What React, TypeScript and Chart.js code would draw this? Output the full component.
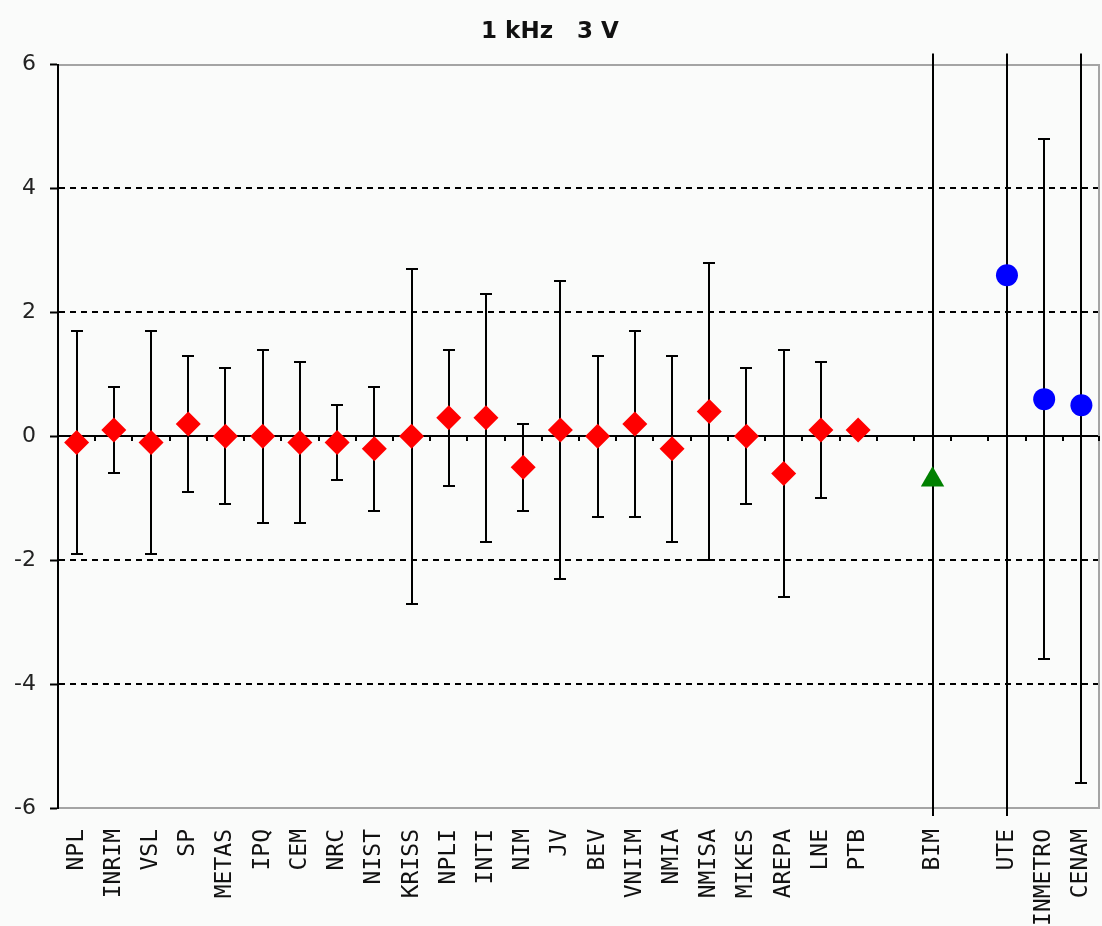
import React, { useEffect, useRef } from 'react';
import { Chart, registerables } from 'chart.js';

Chart.register(...registerables);

// ---- data ----
const TITLE = '1 kHz   3 V';

const labLabels = ['NPL', 'INRIM', 'VSL', 'SP', 'METAS', 'IPQ', 'CEM', 'NRC', 'NIST', 'KRISS', 'NPLI', 'INTI', 'NIM', 'JV', 'BEV', 'VNIIM', 'NMIA', 'NMISA', 'MIKES', 'AREPA', 'LNE', 'PTB'];
const labValues = [-0.1, 0.1, -0.1, 0.2, 0.0, 0.0, -0.1, -0.1, -0.2, 0.0, 0.3, 0.3, -0.5, 0.1, 0.0, 0.2, -0.2, 0.4, 0.0, -0.6, 0.1, 0.1];
const labUncertainty = [1.8, 0.7, 1.8, 1.1, 1.1, 1.4, 1.3, 0.6, 1.0, 2.7, 1.1, 2.0, 0.7, 2.4, 1.3, 1.5, 1.5, 2.4, 1.1, 2.0, 1.1, 0];

const bimLabel = 'BIM';
const bimValue = -0.7;
const bimUncertainty = 9;

const otherLabels = ['UTE', 'INMETRO', 'CENAM'];
const otherValues = [2.6, 0.6, 0.5];
const otherUncertainty = [10, 4.2, 6.1];

const gapLabelA = ' ';
const gapLabelB = '  ';

const yMin = -6;
const yMax = 6;
const yStep = 2;

const categories = [...labLabels, gapLabelA, bimLabel, gapLabelB, ...otherLabels];

const labSeries = categories.map((c) => {
  const k = labLabels.indexOf(c);
  return k >= 0 ? labValues[k] : null;
});
const bimSeries = categories.map((c) => (c === bimLabel ? bimValue : null));
const otherSeries = categories.map((c) => {
  const k = otherLabels.indexOf(c);
  return k >= 0 ? otherValues[k] : null;
});
const errorBars = categories.map((c) => {
  let k = labLabels.indexOf(c);
  if (k >= 0) return { v: labValues[k], u: labUncertainty[k] };
  if (c === bimLabel) return { v: bimValue, u: bimUncertainty };
  k = otherLabels.indexOf(c);
  if (k >= 0) return { v: otherValues[k], u: otherUncertainty[k] };
  return null;
});

const decorPlugin = {
  id: 'decor',
  beforeDatasetsDraw(chart: any) {
    const { ctx, chartArea, scales } = chart;
    const x = scales.x;
    const y = scales.y;
    const { left, right, top, bottom } = chartArea;
    ctx.save();
    // horizontal grid lines
    for (let t = yMin; t <= yMax; t += yStep) {
      const py = Math.round(y.getPixelForValue(t));
      ctx.beginPath();
      ctx.lineWidth = 2;
      if (t === 0) {
        ctx.setLineDash([]);
        ctx.strokeStyle = '#000';
      } else if (t === yMin || t === yMax) {
        ctx.setLineDash([]);
        ctx.strokeStyle = '#a4a4a4';
      } else {
        ctx.setLineDash([6, 5]);
        ctx.strokeStyle = '#000';
      }
      ctx.moveTo(left + 1, py);
      ctx.lineTo(right, py);
      ctx.stroke();
    }
    ctx.setLineDash([]);
    // right frame
    ctx.strokeStyle = '#a4a4a4';
    ctx.lineWidth = 2;
    ctx.beginPath();
    ctx.moveTo(right - 1, top);
    ctx.lineTo(right - 1, bottom);
    ctx.stroke();
    // minor ticks on the zero line at category boundaries
    const p0 = Math.round(y.getPixelForValue(0));
    ctx.strokeStyle = '#000';
    ctx.lineWidth = 2;
    for (let i = 0; i < categories.length; i++) {
      const a = x.getPixelForValue(i);
      const bx = i + 1 < categories.length ? (a + x.getPixelForValue(i + 1)) / 2 : right - 1;
      ctx.beginPath();
      ctx.moveTo(Math.round(bx), p0);
      ctx.lineTo(Math.round(bx), p0 + 5);
      ctx.stroke();
    }
    // error bars
    ctx.strokeStyle = '#000';
    ctx.lineWidth = 2;
    const capHalf = 6;
    errorBars.forEach((e, i) => {
      if (!e || !e.u) return;
      const px = Math.round(x.getPixelForValue(i));
      const yHi = y.getPixelForValue(e.v + e.u);
      const yLo = y.getPixelForValue(e.v - e.u);
      const topLim = top - 11;
      const botLim = bottom + 8;
      const y1 = Math.max(yHi, topLim);
      const y2 = Math.min(yLo, botLim);
      ctx.beginPath();
      ctx.moveTo(px, y1);
      ctx.lineTo(px, y2);
      if (yHi >= topLim) {
        ctx.moveTo(px - capHalf, Math.round(yHi));
        ctx.lineTo(px + capHalf, Math.round(yHi));
      }
      if (yLo <= botLim) {
        ctx.moveTo(px - capHalf, Math.round(yLo));
        ctx.lineTo(px + capHalf, Math.round(yLo));
      }
      ctx.stroke();
    });
    ctx.restore();
  },
};

export default function App() {
  const ref = useRef<HTMLCanvasElement | null>(null);
  useEffect(() => {
    if (!ref.current) return;
    const chart = new Chart(ref.current, {
      type: 'line',
      data: {
        labels: categories,
        datasets: [
          {
            label: 'labs',
            data: labSeries as any,
            showLine: false,
            pointStyle: 'rectRot',
            pointRadius: 12.5,
            pointBackgroundColor: '#ff0000',
            pointBorderColor: '#ff0000',
            pointBorderWidth: 0,
          },
          {
            label: 'BIM',
            data: bimSeries as any,
            showLine: false,
            pointStyle: 'triangle',
            pointRadius: 13.5,
            pointBackgroundColor: '#008000',
            pointBorderColor: '#008000',
            pointBorderWidth: 0,
          },
          {
            label: 'others',
            data: otherSeries as any,
            showLine: false,
            pointStyle: 'circle',
            pointRadius: 11,
            pointBackgroundColor: '#0000ff',
            pointBorderColor: '#0000ff',
            pointBorderWidth: 0,
          },
        ],
      },
      options: {
        responsive: false,
        animation: false,
        devicePixelRatio: 1,
        layout: { autoPadding: false, padding: { left: 0, right: 2, top: 0, bottom: 0 } },
        plugins: {
          legend: { display: false },
          tooltip: { enabled: false },
          title: {
            display: true,
            text: TITLE,
            color: '#111',
            font: { family: 'DejaVu Sans', size: 23, weight: 'bold' },
            padding: { top: 18, bottom: 19 },
          },
        },
        scales: {
          x: {
            type: 'category',
            offset: true,
            grid: { display: false },
            border: { display: false },
            ticks: {
              autoSkip: false,
              maxRotation: 90,
              minRotation: 90,
              padding: 13,
              color: '#111',
              font: { family: 'DejaVu Sans Mono', size: 23 },
            },
            afterFit(scale: any) {
              scale.height = 118;
              scale.paddingLeft = 0;
              scale.paddingRight = 0;
            },
          },
          y: {
            min: yMin,
            max: yMax,
            grid: {
              drawOnChartArea: false,
              drawTicks: true,
              tickLength: 8,
              tickColor: '#000',
              tickWidth: 2,
            },
            border: { display: true, color: '#000', width: 2 },
            ticks: {
              stepSize: yStep,
              padding: 14,
              color: '#222',
              font: { family: 'DejaVu Sans', size: 22 },
              callback: (v: any) => String(v),
            },
            afterFit(scale: any) {
              scale.width = 58;
            },
          },
        },
      },
      plugins: [decorPlugin],
    });
    return () => chart.destroy();
  }, []);
  return (
    <div style={{ position: 'absolute', left: 0, top: 0, width: 1102, height: 926, background: '#fafbfa' }}>
      <canvas ref={ref} width={1102} height={926} style={{ display: 'block' }} />
    </div>
  );
}
